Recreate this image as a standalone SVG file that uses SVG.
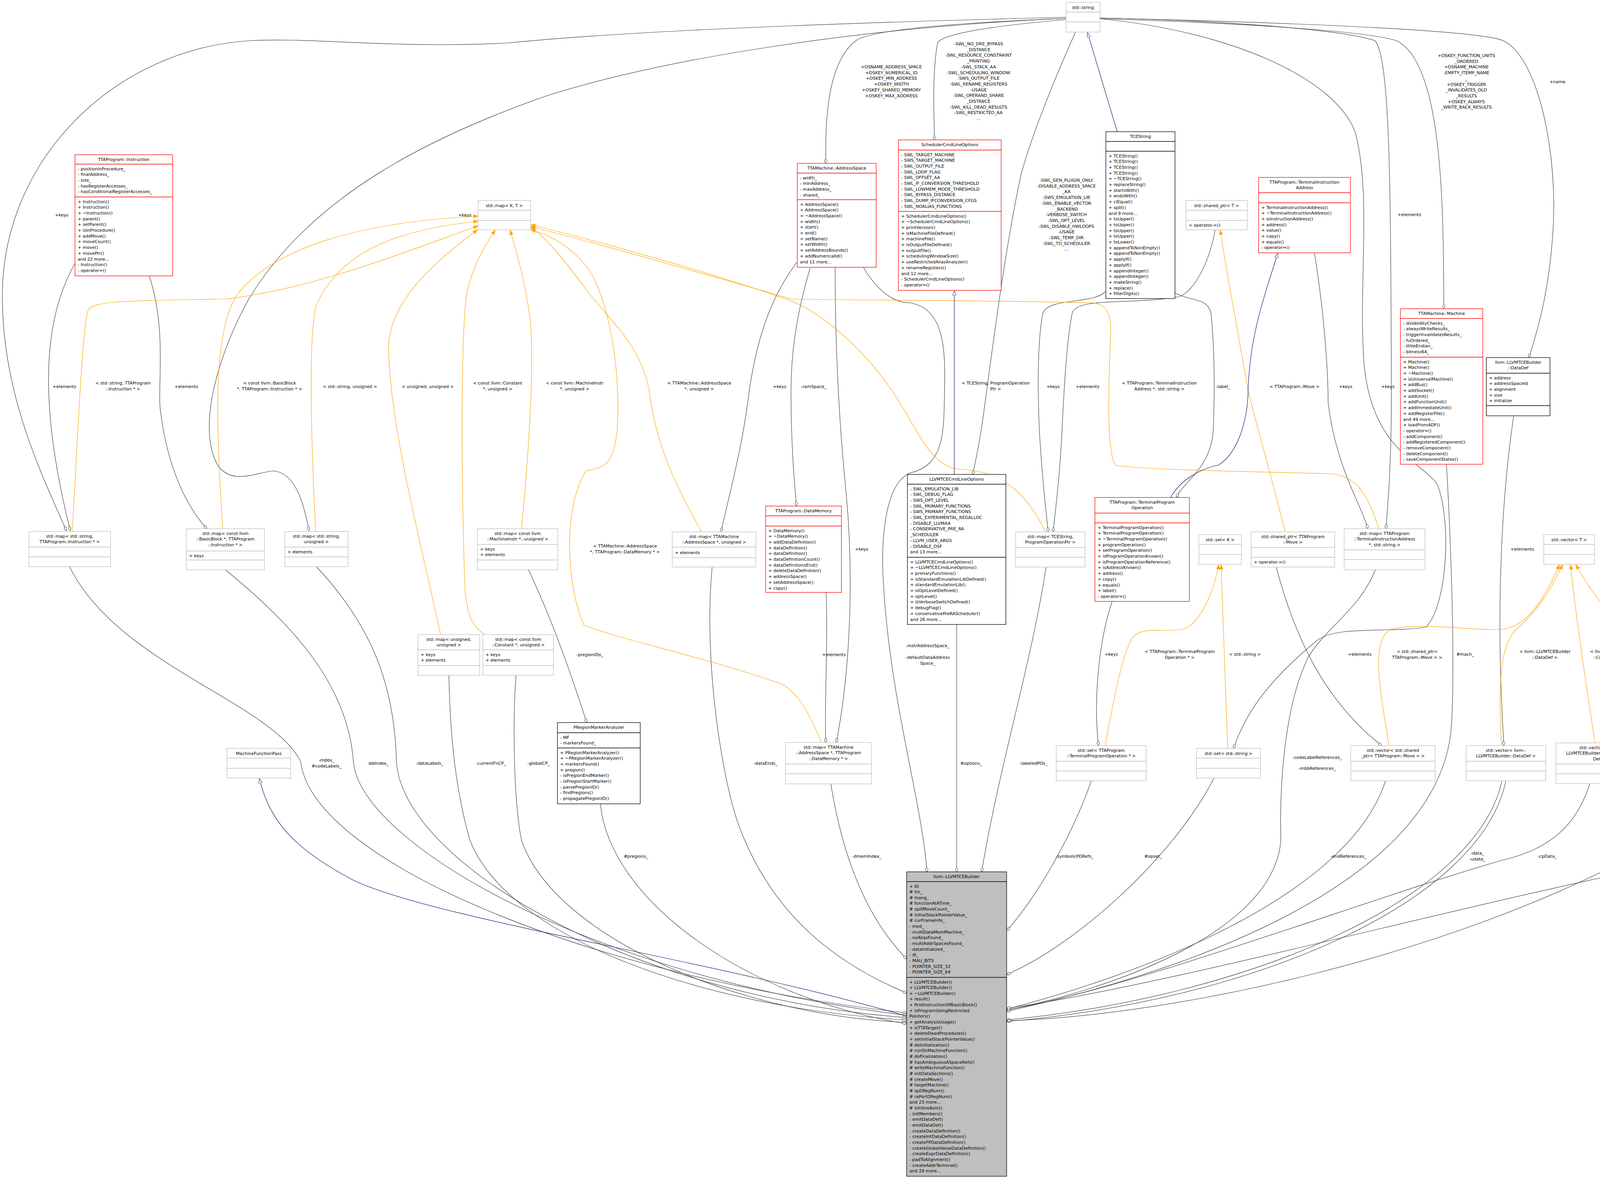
<svg xmlns="http://www.w3.org/2000/svg" width="4726" height="3017" viewBox="0 0 4726 3017">
<style>
text{font-family:"DejaVu Sans","Liberation Sans",sans-serif;font-size:11px;fill:#000}
.c{text-anchor:middle}
.g rect,.g path{fill:#fff;stroke:#bfbfbf;stroke-width:1.3}
.r rect,.r path{fill:#fff;stroke:#ff0000;stroke-width:1.3}
.k rect,.k path{fill:#fff;stroke:#000;stroke-width:1.3}
.m rect{fill:#bfbfbf;stroke:#000;stroke-width:1.3}
.m path{fill:none;stroke:#000;stroke-width:1.3}
#edges path{fill:none;stroke:#404040;stroke-width:1.2}
#edges path.o{stroke:orange}
#edges path.b{stroke:midnightblue}
</style>
<defs>
<marker id="d" markerWidth="15" markerHeight="9" refX="13" refY="4.5" orient="auto" markerUnits="userSpaceOnUse"><path d="M1,4.5 L7,1 L13,4.5 L7,8 Z" fill="#fff" stroke="#404040"/></marker>
<marker id="a" markerWidth="13" markerHeight="10" refX="12" refY="4.5" orient="auto" markerUnits="userSpaceOnUse"><path d="M0,0 L12,4.5 L0,9 Z" fill="orange" stroke="orange"/></marker>
<marker id="t" markerWidth="14" markerHeight="11" refX="12" refY="5" orient="auto" markerUnits="userSpaceOnUse"><path d="M0,0.5 L12,5 L0,9.5 Z" fill="#fff" stroke="midnightblue"/></marker>
</defs>
<rect width="4726" height="3017" fill="#fff"/>

<g id="edges">
<path marker-end="url(#d)" d="M2729,44 C2100,60 1600,80 1300,110 C1000,125 800,95 640,104 C300,125 10,400 6,750 C4,1000 100,1200 170,1358"/>
<path marker-end="url(#d)" d="M2729,47 C2200,70 1700,150 1400,245 C1100,350 800,500 640,760 C560,900 500,1100 560,1195 C600,1240 650,1210 700,1205 C760,1210 780,1300 791,1358"/>
<path marker-end="url(#d)" d="M192,674 C120,800 90,1000 180,1358"/>
<path marker-end="url(#d)" d="M382,706 C430,850 400,1000 412,1060 C430,1200 480,1300 530,1353"/>
<path marker-end="url(#d)" d="M2729,47 C2400,60 2220,80 2190,105 C2120,160 2112,300 2114,418"/>
<path marker-end="url(#d)" d="M2729,50 C2500,70 2410,90 2400,110 C2385,200 2392,300 2392,358"/>
<path marker-end="url(#d)" d="M2753,83 C2700,200 2640,350 2614,446 C2570,650 2540,900 2515,1080 C2505,1150 2495,1190 2490,1214"/>
<path marker-end="url(#d)" d="M2816,48 C3200,60 3500,80 3575,104 C3690,160 3696,500 3696,790"/>
<path marker-end="url(#d)" d="M2816,46 C3400,60 3800,80 3850,105 C3940,150 3990,400 3975,600 C3965,750 3935,850 3914,915"/>
<path marker-end="url(#d)" d="M2816,46 C3200,55 3450,80 3520,104 C3560,150 3560,500 3562,1000 C3562,1200 3552,1300 3548,1353"/>
<path marker-end="url(#d)" d="M2816,48 C3150,80 3420,200 3470,340 C3510,500 3480,700 3490,900 C3500,1150 3640,1180 3680,1240 C3720,1350 3700,1560 3650,1605 C3550,1620 3420,1600 3370,1640 C3250,1740 3190,1820 3158,1915"/>
<path marker-end="url(#d)" d="M3365,647 C3390,800 3400,950 3400,1030 C3420,1200 3490,1300 3501,1353"/>
<path marker-end="url(#d)" d="M2831,745 C2800,780 2690,760 2670,800 C2650,900 2660,1100 2664,1150 C2670,1250 2680,1320 2683,1361"/>
<path marker-end="url(#d)" d="M3111,588 C3090,700 3040,760 3012,760 C2900,780 2760,760 2745,800 C2725,900 2720,1100 2716,1150 C2710,1250 2700,1320 2696,1361"/>
<path marker-end="url(#d)" d="M3008,749 C3040,770 3090,760 3100,800 C3110,900 3110,1000 3106,1100 C3100,1200 3030,1230 3012,1273"/>
<path marker-end="url(#d)" d="M2041,670 C1980,750 1940,850 1918,1000 C1900,1150 1870,1250 1846,1361"/>
<path marker-end="url(#d)" d="M2138,684 C2138,900 2150,1100 2165,1250 C2185,1450 2180,1700 2141,1900"/>
<path marker-end="url(#d)" d="M2074,686 C2040,800 2025,900 2025,1000 C2025,1150 2035,1250 2039,1295"/>
<path marker-end="url(#d)" d="M2210,684 C2250,750 2290,775 2330,775 C2420,790 2420,900 2418,1000 C2416,1100 2420,1190 2330,1210 C2260,1240 2255,1400 2262,1500 C2280,1800 2360,2050 2373,2231"/>
<path marker-end="url(#d)" d="M2449,1598 L2449,2231"/>
<path marker-end="url(#d)" d="M2678,1451 C2640,1700 2560,1950 2513,2231"/>
<path marker-end="url(#d)" d="M2115,1516 C2120,1650 2110,1800 2114,1900"/>
<path marker-end="url(#d)" d="M1353,1458 C1420,1600 1470,1750 1502,1849"/>
<path marker-end="url(#d)" d="M3267,1451 C3320,1650 3400,1800 3537,1908"/>
<path marker-end="url(#d)" d="M2847,1539 C2810,1650 2800,1800 2812,1908"/>
<path marker-end="url(#d)" d="M3875,1064 C3840,1300 3830,1600 3850,1908"/>
<path marker-end="url(#d)" d="M4245,1473 C4245,1700 4200,1800 4135,1901"/>
<path marker-end="url(#d)" d="M4545,1444 C4550,1600 4500,1700 4378,1916"/>
<path marker-end="url(#d)" d="M178,1450 C300,1700 700,1800 770,1950 C800,2200 1500,2500 2321,2592"/>
<path marker-end="url(#d)" d="M577,1458 C750,1600 890,1750 905,1950 C920,2150 1500,2500 2321,2598"/>
<path marker-end="url(#d)" d="M810,1450 C950,1600 1010,1750 1015,1950 C1030,2200 1600,2550 2321,2604"/>
<path marker-end="url(#d)" d="M1149,1728 C1152,1850 1160,2000 1203,2150 C1300,2400 1800,2580 2321,2610"/>
<path marker-end="url(#d)" d="M1321,1728 C1312,1850 1315,2050 1335,2150 C1420,2400 1900,2600 2321,2616"/>
<path marker-end="url(#d)" d="M1537,2057 C1560,2300 1900,2550 2321,2620"/>
<path marker-end="url(#d)" d="M1823,1451 C1800,1700 1850,2000 1892,2114 C1980,2350 2150,2470 2321,2541"/>
<path marker-end="url(#d)" d="M2127,2006 C2150,2150 2200,2330 2321,2454"/>
<path marker-end="url(#d)" d="M2794,1998 C2740,2150 2650,2300 2577,2382"/>
<path marker-end="url(#d)" d="M3108,1991 C3000,2200 2750,2420 2577,2494"/>
<path marker-end="url(#d)" d="M3547,1998 C3450,2300 2900,2500 2577,2582"/>
<path marker-end="url(#d)" d="M3521,1458 C3480,1560 3400,1600 3350,1680 C3290,1800 3275,2000 3279,2150 C3260,2400 2800,2540 2577,2585"/>
<path marker-end="url(#d)" d="M3703,1188 C3715,1400 3725,1700 3716,1850 C3700,2200 3200,2450 2577,2588"/>
<path marker-end="url(#d)" d="M3845,1998 C3780,2300 3200,2550 2577,2610"/>
<path marker-end="url(#d)" d="M3855,1998 C3790,2310 3210,2560 2577,2614"/>
<path marker-end="url(#d)" d="M4070,2005 C4040,2100 3980,2170 3850,2200 C3500,2300 2900,2530 2577,2584"/>
<path marker-end="url(#d)" d="M4333,1991 C4290,2100 4250,2150 4200,2180 C3700,2450 3000,2600 2577,2612"/>
<path marker-end="url(#d)" d="M4500,2140 C4470,2180 4420,2200 4300,2205 C3800,2300 3000,2520 2577,2580"/>
<path class="o" marker-end="url(#a)" d="M185,1360 C200,1100 210,850 225,795 C240,770 300,770 580,765 C800,740 1050,640 1224,578"/>
<path class="o" marker-end="url(#a)" d="M570,1353 C555,1100 540,850 610,750 C700,640 900,570 1224,553"/>
<path class="o" marker-end="url(#a)" d="M808,1360 C795,1100 790,850 810,780 C870,650 1000,590 1224,566"/>
<path class="o" marker-end="url(#a)" d="M1128,1624 C1080,1400 1000,1100 995,900 C990,780 1100,680 1222,588"/>
<path class="o" marker-end="url(#a)" d="M1240,1624 C1210,1600 1195,1580 1190,1500 C1180,1200 1180,850 1195,750 C1210,680 1240,630 1268,589"/>
<path class="o" marker-end="url(#a)" d="M1335,1353 C1355,1150 1370,900 1355,800 C1340,700 1320,640 1306,589"/>
<path class="o" marker-end="url(#a)" d="M1796,1361 C1740,1260 1680,1150 1662,1000 C1640,880 1560,820 1500,740 C1440,660 1400,610 1359,582"/>
<path class="o" marker-end="url(#a)" d="M2103,1900 C2070,1820 2040,1770 2000,1750 C1800,1680 1600,1640 1495,1600 C1450,1500 1440,1300 1500,1205 C1540,1195 1570,1200 1580,1100 C1590,950 1560,760 1500,680 C1450,620 1400,600 1359,588"/>
<path class="o" marker-end="url(#a)" d="M2677,1361 C2620,1250 2560,1205 2450,1200 C2380,1190 2350,1100 2284,1000 C2200,880 2100,800 2025,770 C1800,690 1500,610 1359,575"/>
<path class="o" marker-end="url(#a)" d="M3530,1353 C3500,1260 3470,1215 3400,1212 C3100,1205 2900,1200 2855,1190 C2830,1150 2840,950 2843,850 C2845,800 2830,780 2800,775 C2500,768 2100,768 2025,765 C1800,700 1500,615 1359,580"/>
<path class="o" marker-end="url(#a)" d="M2829,1908 C2850,1800 2870,1680 2900,1630 C2930,1600 2980,1620 3030,1610 C3080,1590 3110,1500 3120,1445"/>
<path class="o" marker-end="url(#a)" d="M3143,1915 L3126,1445"/>
<path class="o" marker-end="url(#a)" d="M3290,1361 C3250,1200 3220,1100 3195,1000 C3170,850 3140,700 3124,589"/>
<path class="o" marker-end="url(#a)" d="M3556,1908 C3530,1750 3510,1640 3560,1610 C3650,1590 3800,1620 3860,1608 C3920,1590 3960,1520 3992,1445"/>
<path class="o" marker-end="url(#a)" d="M3844,1908 C3835,1750 3840,1650 3882,1610 C3940,1560 3975,1500 4000,1445"/>
<path class="o" marker-end="url(#a)" d="M4083,1901 C4060,1750 4030,1550 4021,1445"/>
<path class="o" marker-end="url(#a)" d="M4351,1916 C4345,1750 4340,1650 4300,1605 C4250,1590 4200,1620 4140,1585 C4090,1540 4060,1490 4034,1445"/>
<path class="b" marker-end="url(#t)" d="M2860,337 L2784,83"/>
<path class="b" marker-end="url(#t)" d="M2443,1214 L2443,744"/>
<path class="b" marker-end="url(#t)" d="M2997,1273 C3020,1230 3070,1200 3120,1190 C3180,1150 3195,1050 3195,1000 C3200,850 3240,750 3271,648"/>
<path class="b" marker-end="url(#t)" d="M2321,2600 C1800,2450 1100,2350 900,2250 C750,2170 690,2100 664,1992"/>

<text class="c" x="158" y="554">+keys</text>
<text class="c" x="1190" y="554">+keys</text>
<text class="c" x="165" y="993">+elements</text>
<text class="c" x="315" y="984">&lt; std::string, TTAProgram<tspan x="315" dy="14.7">::Instruction * &gt;</tspan></text>
<text class="c" x="477" y="993">+elements</text>
<text class="c" x="690" y="984">&lt; const llvm::BasicBlock<tspan x="690" dy="14.7">*, TTAProgram::Instruction * &gt;</tspan></text>
<text class="c" x="896" y="993">&lt; std::string, unsigned &gt;</text>
<text class="c" x="1095" y="993">&lt; unsigned, unsigned &gt;</text>
<text class="c" x="1274" y="984">&lt; const llvm::Constant<tspan x="1274" dy="14.7">*, unsigned &gt;</tspan></text>
<text class="c" x="1471" y="984">&lt; const llvm::MachineInstr<tspan x="1471" dy="14.7">*, unsigned &gt;</tspan></text>
<text class="c" x="1790" y="984">&lt; TTAMachine::AddressSpace<tspan x="1790" dy="14.7">*, unsigned &gt;</tspan></text>
<text class="c" x="1996" y="993">+keys</text>
<text class="c" x="2083" y="993">-ramSpace_</text>
<text class="c" x="2549" y="984">&lt; TCEString, ProgramOperation<tspan x="2549" dy="14.7">Ptr &gt;</tspan></text>
<text class="c" x="2696" y="993">+keys</text>
<text class="c" x="2784" y="993">+elements</text>
<text class="c" x="2968" y="984">&lt; TTAProgram::TerminalInstruction<tspan x="2968" dy="14.7">Address *, std::string &gt;</tspan></text>
<text class="c" x="3131" y="993">-label_</text>
<text class="c" x="3314" y="993">&lt; TTAProgram::Move &gt;</text>
<text class="c" x="3445" y="993">+keys</text>
<text class="c" x="3553" y="993">+keys</text>
<text class="c" x="2282" y="175">+OSNAME_ADDRESS_SPACE<tspan x="2282" dy="14.7">+OSKEY_NUMERICAL_ID</tspan><tspan x="2282" dy="14.7">+OSKEY_MIN_ADDRESS</tspan><tspan x="2282" dy="14.7">+OSKEY_WIDTH</tspan><tspan x="2282" dy="14.7">+OSKEY_SHARED_MEMORY</tspan><tspan x="2282" dy="14.7">+OSKEY_MAX_ADDRESS</tspan></text>
<text class="c" x="2505" y="116">-SWL_NO_DRE_BYPASS<tspan x="2505" dy="14.7">_DISTANCE</tspan><tspan x="2505" dy="14.7">-SWL_RESOURCE_CONSTRAINT</tspan><tspan x="2505" dy="14.7">_PRINTING</tspan><tspan x="2505" dy="14.7">-SWL_STACK_AA</tspan><tspan x="2505" dy="14.7">-SWL_SCHEDULING_WINDOW</tspan><tspan x="2505" dy="14.7">-SWS_OUTPUT_FILE</tspan><tspan x="2505" dy="14.7">-SWL_RENAME_REGISTERS</tspan><tspan x="2505" dy="14.7">-USAGE</tspan><tspan x="2505" dy="14.7">-SWL_OPERAND_SHARE</tspan><tspan x="2505" dy="14.7">_DISTANCE</tspan><tspan x="2505" dy="14.7">-SWL_KILL_DEAD_RESULTS</tspan><tspan x="2505" dy="14.7">-SWL_RESTRICTED_AA</tspan><tspan x="2505" dy="14.7">...</tspan></text>
<text class="c" x="2730" y="465">-SWL_GEN_PLUGIN_ONLY<tspan x="2730" dy="14.7">-DISABLE_ADDRESS_SPACE</tspan><tspan x="2730" dy="14.7">_AA</tspan><tspan x="2730" dy="14.7">-SWS_EMULATION_LIB</tspan><tspan x="2730" dy="14.7">-SWL_ENABLE_VECTOR</tspan><tspan x="2730" dy="14.7">_BACKEND</tspan><tspan x="2730" dy="14.7">-VERBOSE_SWITCH</tspan><tspan x="2730" dy="14.7">-SWL_OPT_LEVEL</tspan><tspan x="2730" dy="14.7">-SWL_DISABLE_HWLOOPS</tspan><tspan x="2730" dy="14.7">-USAGE</tspan><tspan x="2730" dy="14.7">-SWL_TEMP_DIR</tspan><tspan x="2730" dy="14.7">-SWL_TD_SCHEDULER</tspan><tspan x="2730" dy="14.7">...</tspan></text>
<text class="c" x="3754" y="146">+OSKEY_FUNCTION_UNITS<tspan x="3754" dy="14.7">_ORDERED</tspan><tspan x="3754" dy="14.7">+OSNAME_MACHINE</tspan><tspan x="3754" dy="14.7">-EMPTY_ITEMP_NAME</tspan><tspan x="3754" dy="14.7">_</tspan><tspan x="3754" dy="14.7">+OSKEY_TRIGGER</tspan><tspan x="3754" dy="14.7">_INVALIDATES_OLD</tspan><tspan x="3754" dy="14.7">_RESULTS</tspan><tspan x="3754" dy="14.7">+OSKEY_ALWAYS</tspan><tspan x="3754" dy="14.7">_WRITE_BACK_RESULTS</tspan></text>
<text class="c" x="3987" y="213">+name</text>
<text class="c" x="3608" y="553">+elements</text>
<text class="c" x="3897" y="1409">+elements</text>
<text class="c" x="1600" y="1401">&lt; TTAMachine::AddressSpace<tspan x="1600" dy="14.7">*, TTAProgram::DataMemory * &gt;</tspan></text>
<text class="c" x="2206" y="1409">+keys</text>
<text class="c" x="1510" y="1679">-pregionIDs_</text>
<text class="c" x="2135" y="1679">+elements</text>
<text class="c" x="2375" y="1656">-instrAddressSpace_<tspan x="2375" dy="30">-defaultDataAddress</tspan><tspan x="2375" dy="14.7">Space_</tspan></text>
<text class="c" x="2845" y="1678">+keys</text>
<text class="c" x="3020" y="1671">&lt; TTAProgram::TerminalProgram<tspan x="3020" dy="14.7">Operation * &gt;</tspan></text>
<text class="c" x="3187" y="1678">&lt; std::string &gt;</text>
<text class="c" x="3481" y="1678">+elements</text>
<text class="c" x="3628" y="1671">&lt; std::shared_ptr&lt;<tspan x="3628" dy="14.7">TTAProgram::Move &gt; &gt;</tspan></text>
<text class="c" x="3751" y="1678">#mach_</text>
<text class="c" x="3955" y="1671">&lt; llvm::LLVMTCEBuilder<tspan x="3955" dy="14.7">::DataDef &gt;</tspan></text>
<text class="c" x="4136" y="1671">&lt; llvm::LLVMTCEBuilder<tspan x="4136" dy="14.7">::ConstantDataDef &gt;</tspan></text>
<text class="c" x="4275" y="1678">+elements</text>
<text class="c" x="4417" y="1678">&lt; MachineFunction * &gt;</text>
<text class="c" x="4577" y="1678">+elements</text>
<text class="c" x="836" y="1949">-mbbs_<tspan x="836" dy="14.7">#codeLabels_</tspan></text>
<text class="c" x="968" y="1957">-bbIndex_</text>
<text class="c" x="1100" y="1957">-dataLabels_</text>
<text class="c" x="1257" y="1957">-currentFnCP_</text>
<text class="c" x="1379" y="1957">-globalCP_</text>
<text class="c" x="1960" y="1957">-dataEnds_</text>
<text class="c" x="2486" y="1957">#options_</text>
<text class="c" x="2646" y="1957">-labeledPOs_</text>
<text class="c" x="3372" y="1942">-codeLabelReferences_</text>
<text class="c" x="3372" y="1970">-mbbReferences_</text>
<text class="c" x="1628" y="2195">#pregions_</text>
<text class="c" x="2219" y="2195">-dmemIndex_</text>
<text class="c" x="2751" y="2195">-symbolicPORefs_</text>
<text class="c" x="2952" y="2195">#opset_</text>
<text class="c" x="3452" y="2195">-endReferences_</text>
<text class="c" x="3782" y="2187">-data_<tspan x="3782" dy="14.7">-udata_</tspan></text>
<text class="c" x="3961" y="2195">-cpData_</text>
<text class="c" x="4215" y="2195">-functions_</text>
<text class="c" x="4469" y="2195">#prog_</text>
</g>

<g id="MachineFunctionPass" class="g"><rect x="581" y="1915" width="163" height="76"/><path d="M581,1940H744M581,1966H744"/><text class="c" x="662.5" y="1931.5">MachineFunctionPass</text></g>

<g id="map_string_instr" class="g"><rect x="74" y="1360" width="209" height="90"/><path d="M74,1400H283M74,1425H283"/><text class="c" x="178.5" y="1375.5">std::map&lt; std::string,<tspan x="178.5" dy="14.7">TTAProgram::Instruction * &gt;</tspan></text></g>

<g id="map_bb_instr" class="g"><rect x="477" y="1353" width="200" height="105"/><path d="M477,1410H677M477,1433H677"/><text class="c" x="577" y="1368.5">std::map&lt; const llvm<tspan x="577" dy="14.7">::BasicBlock *, TTAProgram</tspan><tspan x="577" dy="14.7">::Instruction * &gt;</tspan></text><text x="484" y="1425.5">+ keys</text></g>

<g id="map_string_unsigned" class="g"><rect x="729" y="1360" width="162" height="90"/><path d="M729,1400H891M729,1425H891"/><text class="c" x="810" y="1375.5">std::map&lt; std::string,<tspan x="810" dy="14.7">unsigned &gt;</tspan></text><text x="736" y="1415.5">+ elements</text></g>

<g id="map_mi_unsigned" class="g"><rect x="1222" y="1353" width="206" height="105"/><path d="M1222,1393H1428M1222,1433H1428"/><text class="c" x="1325" y="1368.5">std::map&lt; const llvm<tspan x="1325" dy="14.7">::MachineInstr *, unsigned &gt;</tspan></text><text x="1229" y="1408.5">+ keys<tspan x="1229" dy="14.7">+ elements</tspan></text></g>

<g id="map_unsigned_unsigned" class="g"><rect x="1070" y="1624" width="158" height="104"/><path d="M1070,1663H1228M1070,1703H1228"/><text class="c" x="1149" y="1639.5">std::map&lt; unsigned,<tspan x="1149" dy="14.7">unsigned &gt;</tspan></text><text x="1077" y="1678.5">+ keys<tspan x="1077" dy="14.7">+ elements</tspan></text></g>

<g id="map_constant_unsigned" class="g"><rect x="1236" y="1624" width="181" height="104"/><path d="M1236,1663H1417M1236,1703H1417"/><text class="c" x="1326.5" y="1639.5">std::map&lt; const llvm<tspan x="1326.5" dy="14.7">::Constant *, unsigned &gt;</tspan></text><text x="1243" y="1678.5">+ keys<tspan x="1243" dy="14.7">+ elements</tspan></text></g>

<g id="map_as_unsigned" class="g"><rect x="1721" y="1361" width="214" height="90"/><path d="M1721,1400H1935M1721,1427H1935"/><text class="c" x="1828" y="1376.5">std::map&lt; TTAMachine<tspan x="1828" dy="14.7">::AddressSpace *, unsigned &gt;</tspan></text><text x="1728" y="1417.5">+ elements</text></g>

<g id="DataMemory" class="r"><rect x="1960" y="1295" width="194" height="221"/><path d="M1960,1320H2154M1960,1346H2154"/><text class="c" x="2057" y="1311">TTAProgram::DataMemory</text><text x="1967" y="1361.5">+ DataMemory()<tspan x="1967" dy="14.7">+ ~DataMemory()</tspan><tspan x="1967" dy="14.7">+ addDataDefinition()</tspan><tspan x="1967" dy="14.7">+ dataDefinition()</tspan><tspan x="1967" dy="14.7">+ dataDefinition()</tspan><tspan x="1967" dy="14.7">+ dataDefinitionCount()</tspan><tspan x="1967" dy="14.7">+ dataDefinitionsEnd()</tspan><tspan x="1967" dy="14.7">+ deleteDataDefinition()</tspan><tspan x="1967" dy="14.7">+ addressSpace()</tspan><tspan x="1967" dy="14.7">+ setAddressSpace()</tspan><tspan x="1967" dy="14.7">+ copy()</tspan></text></g>

<g id="PRegionMarkerAnalyzer" class="k"><rect x="1427" y="1849" width="212" height="208"/><path d="M1427,1875H1639M1427,1914H1639"/><text class="c" x="1533" y="1865">PRegionMarkerAnalyzer</text><text x="1434" y="1890.5">- MF<tspan x="1434" dy="14.7">- markersFound_</tspan></text><text x="1434" y="1929.5">+ PRegionMarkerAnalyzer()<tspan x="1434" dy="14.7">+ ~PRegionMarkerAnalyzer()</tspan><tspan x="1434" dy="14.7">+ markersFound()</tspan><tspan x="1434" dy="14.7">+ pregion()</tspan><tspan x="1434" dy="14.7">- isPregionEndMarker()</tspan><tspan x="1434" dy="14.7">- isPregionStartMarker()</tspan><tspan x="1434" dy="14.7">- parsePregionID()</tspan><tspan x="1434" dy="14.7">- findPregions()</tspan><tspan x="1434" dy="14.7">- propagatePregionID()</tspan></text></g>

<g id="map_as_dm" class="g"><rect x="2011" y="1900" width="220" height="106"/><path d="M2011,1955H2231M2011,1980H2231"/><text class="c" x="2121" y="1915.5">std::map&lt; TTAMachine<tspan x="2121" dy="14.7">::AddressSpace *, TTAProgram</tspan><tspan x="2121" dy="14.7">::DataMemory * &gt;</tspan></text></g>

<g id="Instruction" class="r"><rect x="192" y="396" width="250" height="310"/><path d="M192,420H442M192,504H442"/><text class="c" x="317" y="412">TTAProgram::Instruction</text><text x="199" y="435.5">- positionInProcedure_<tspan x="199" dy="14.7">- finalAddress_</tspan><tspan x="199" dy="14.7">- size_</tspan><tspan x="199" dy="14.7">- hasRegisterAccesses_</tspan><tspan x="199" dy="14.7">- hasConditionalRegisterAccesses_</tspan></text><text x="199" y="519.5">+ Instruction()<tspan x="199" dy="14.7">+ Instruction()</tspan><tspan x="199" dy="14.7">+ ~Instruction()</tspan><tspan x="199" dy="14.7">+ parent()</tspan><tspan x="199" dy="14.7">+ setParent()</tspan><tspan x="199" dy="14.7">+ isInProcedure()</tspan><tspan x="199" dy="14.7">+ addMove()</tspan><tspan x="199" dy="14.7">+ moveCount()</tspan><tspan x="199" dy="14.7">+ move()</tspan><tspan x="199" dy="14.7">+ movePtr()</tspan><tspan x="199" dy="14.7">and 22 more...</tspan><tspan x="199" dy="14.7">- Instruction()</tspan><tspan x="199" dy="14.7">- operator=()</tspan></text></g>

<g id="map_K_T" class="g"><rect x="1224" y="513" width="134" height="75"/><path d="M1224,538H1358M1224,564H1358"/><text class="c" x="1291" y="530">std::map&lt; K, T &gt;</text></g>

<g id="string" class="g"><rect x="2729" y="6" width="87" height="76"/><path d="M2729,31H2816M2729,56H2816"/><text class="c" x="2772.5" y="23">std::string</text></g>

<g id="AddressSpace" class="r"><rect x="2041" y="418" width="202" height="266"/><path d="M2041,443H2243M2041,511H2243"/><text class="c" x="2142" y="434">TTAMachine::AddressSpace</text><text x="2048" y="458.5">- width_<tspan x="2048" dy="14.7">- minAddress_</tspan><tspan x="2048" dy="14.7">- maxAddress_</tspan><tspan x="2048" dy="14.7">- shared_</tspan></text><text x="2048" y="526.5">+ AddressSpace()<tspan x="2048" dy="14.7">+ AddressSpace()</tspan><tspan x="2048" dy="14.7">+ ~AddressSpace()</tspan><tspan x="2048" dy="14.7">+ width()</tspan><tspan x="2048" dy="14.7">+ start()</tspan><tspan x="2048" dy="14.7">+ end()</tspan><tspan x="2048" dy="14.7">+ setName()</tspan><tspan x="2048" dy="14.7">+ setWidth()</tspan><tspan x="2048" dy="14.7">+ setAddressBounds()</tspan><tspan x="2048" dy="14.7">+ addNumericalId()</tspan><tspan x="2048" dy="14.7">and 11 more...</tspan></text></g>

<g id="SchedulerCmdLineOptions" class="r"><rect x="2300" y="358" width="263" height="385"/><path d="M2300,384H2563M2300,541H2563"/><text class="c" x="2431.5" y="374">SchedulerCmdLineOptions</text><text x="2307" y="399.5">- SWL_TARGET_MACHINE<tspan x="2307" dy="14.7">- SWS_TARGET_MACHINE</tspan><tspan x="2307" dy="14.7">- SWL_OUTPUT_FILE</tspan><tspan x="2307" dy="14.7">- SWL_LOOP_FLAG</tspan><tspan x="2307" dy="14.7">- SWL_OFFSET_AA</tspan><tspan x="2307" dy="14.7">- SWL_IF_CONVERSION_THRESHOLD</tspan><tspan x="2307" dy="14.7">- SWL_LOWMEM_MODE_THRESHOLD</tspan><tspan x="2307" dy="14.7">- SWL_BYPASS_DISTANCE</tspan><tspan x="2307" dy="14.7">- SWL_DUMP_IFCONVERSION_CFGS</tspan><tspan x="2307" dy="14.7">- SWL_NOALIAS_FUNCTIONS</tspan></text><text x="2307" y="556.5">+ SchedulerCmdLineOptions()<tspan x="2307" dy="14.7">+ ~SchedulerCmdLineOptions()</tspan><tspan x="2307" dy="14.7">+ printVersion()</tspan><tspan x="2307" dy="14.7">+ isMachineFileDefined()</tspan><tspan x="2307" dy="14.7">+ machineFile()</tspan><tspan x="2307" dy="14.7">+ isOutputFileDefined()</tspan><tspan x="2307" dy="14.7">+ outputFile()</tspan><tspan x="2307" dy="14.7">+ schedulingWindowSize()</tspan><tspan x="2307" dy="14.7">+ useRestrictedAliasAnalyzer()</tspan><tspan x="2307" dy="14.7">+ renameRegisters()</tspan><tspan x="2307" dy="14.7">and 12 more...</tspan><tspan x="2307" dy="14.7">- SchedulerCmdLineOptions()</tspan><tspan x="2307" dy="14.7">- operator=()</tspan></text></g>

<g id="TCEString" class="k"><rect x="2831" y="337" width="177" height="427"/><path d="M2831,362H3008M2831,387H3008"/><text class="c" x="2919.5" y="353">TCEString</text><text x="2838" y="402.5">+ TCEString()<tspan x="2838" dy="14.7">+ TCEString()</tspan><tspan x="2838" dy="14.7">+ TCEString()</tspan><tspan x="2838" dy="14.7">+ TCEString()</tspan><tspan x="2838" dy="14.7">+ ~TCEString()</tspan><tspan x="2838" dy="14.7">+ replaceString()</tspan><tspan x="2838" dy="14.7">+ startsWith()</tspan><tspan x="2838" dy="14.7">+ endsWith()</tspan><tspan x="2838" dy="14.7">+ ciEqual()</tspan><tspan x="2838" dy="14.7">+ split()</tspan><tspan x="2838" dy="14.7">and 9 more...</tspan><tspan x="2838" dy="14.7">+ toUpper()</tspan><tspan x="2838" dy="14.7">+ toUpper()</tspan><tspan x="2838" dy="14.7">+ toUpper()</tspan><tspan x="2838" dy="14.7">+ toUpper()</tspan><tspan x="2838" dy="14.7">+ toLower()</tspan><tspan x="2838" dy="14.7">+ appendToNonEmpty()</tspan><tspan x="2838" dy="14.7">+ appendToNonEmpty()</tspan><tspan x="2838" dy="14.7">+ applyIf()</tspan><tspan x="2838" dy="14.7">+ applyIf()</tspan><tspan x="2838" dy="14.7">+ appendInteger()</tspan><tspan x="2838" dy="14.7">+ appendInteger()</tspan><tspan x="2838" dy="14.7">+ makeString()</tspan><tspan x="2838" dy="14.7">+ replace()</tspan><tspan x="2838" dy="14.7">+ filterDigits()</tspan></text></g>

<g id="shared_ptr_T" class="g"><rect x="3036" y="513" width="157" height="75"/><path d="M3036,538H3193M3036,564H3193"/><text class="c" x="3114.5" y="530">std::shared_ptr&lt; T &gt;</text><text x="3043" y="580">+ operator-&gt;()</text></g>

<g id="TerminalInstructionAddress" class="r"><rect x="3222" y="454" width="235" height="193"/><path d="M3222,493H3457M3222,519H3457"/><text class="c" x="3339.5" y="469.5">TTAProgram::TerminalInstruction<tspan x="3339.5" dy="14.7">Address</tspan></text><text x="3229" y="534.5">+ TerminalInstructionAddress()<tspan x="3229" dy="14.7">+ ~TerminalInstructionAddress()</tspan><tspan x="3229" dy="14.7">+ isInstructionAddress()</tspan><tspan x="3229" dy="14.7">+ address()</tspan><tspan x="3229" dy="14.7">+ value()</tspan><tspan x="3229" dy="14.7">+ copy()</tspan><tspan x="3229" dy="14.7">+ equals()</tspan><tspan x="3229" dy="14.7">- operator=()</tspan></text></g>

<g id="Machine" class="r"><rect x="3585" y="790" width="211" height="398"/><path d="M3585,815H3796M3585,914H3796"/><text class="c" x="3690.5" y="806">TTAMachine::Machine</text><text x="3592" y="830.5">- doValidityChecks_<tspan x="3592" dy="14.7">- alwaysWriteResults_</tspan><tspan x="3592" dy="14.7">- triggerInvalidatesResults_</tspan><tspan x="3592" dy="14.7">- fuOrdered_</tspan><tspan x="3592" dy="14.7">- littleEndian_</tspan><tspan x="3592" dy="14.7">- bitness64_</tspan></text><text x="3592" y="929.5">+ Machine()<tspan x="3592" dy="14.7">+ Machine()</tspan><tspan x="3592" dy="14.7">+ ~Machine()</tspan><tspan x="3592" dy="14.7">+ isUniversalMachine()</tspan><tspan x="3592" dy="14.7">+ addBus()</tspan><tspan x="3592" dy="14.7">+ addSocket()</tspan><tspan x="3592" dy="14.7">+ addUnit()</tspan><tspan x="3592" dy="14.7">+ addFunctionUnit()</tspan><tspan x="3592" dy="14.7">+ addImmediateUnit()</tspan><tspan x="3592" dy="14.7">+ addRegisterFile()</tspan><tspan x="3592" dy="14.7">and 49 more...</tspan><tspan x="3592" dy="14.7">+ loadFromADF()</tspan><tspan x="3592" dy="14.7">- operator=()</tspan><tspan x="3592" dy="14.7">- addComponent()</tspan><tspan x="3592" dy="14.7">- addRegisteredComponent()</tspan><tspan x="3592" dy="14.7">- removeComponent()</tspan><tspan x="3592" dy="14.7">- deleteComponent()</tspan><tspan x="3592" dy="14.7">- saveComponentStates()</tspan></text></g>

<g id="DataDef" class="k"><rect x="3805" y="915" width="163" height="149"/><path d="M3805,955H3968M3805,1038H3968"/><text class="c" x="3886.5" y="930.5">llvm::LLVMTCEBuilder<tspan x="3886.5" dy="14.7">::DataDef</tspan></text><text x="3812" y="970.5">+ address<tspan x="3812" dy="14.7">+ addressSpaceId</tspan><tspan x="3812" dy="14.7">+ alignment</tspan><tspan x="3812" dy="14.7">+ size</tspan><tspan x="3812" dy="14.7">+ initialize</tspan></text></g>

<g id="LLVMTCECmdLineOptions" class="k"><rect x="2323" y="1214" width="252" height="384"/><path d="M2323,1239H2575M2323,1426H2575"/><text class="c" x="2449" y="1230">LLVMTCECmdLineOptions</text><text x="2330" y="1254.5">- SWL_EMULATION_LIB<tspan x="2330" dy="14.7">- SWL_DEBUG_FLAG</tspan><tspan x="2330" dy="14.7">- SWS_OPT_LEVEL</tspan><tspan x="2330" dy="14.7">- SWL_PRIMARY_FUNCTIONS</tspan><tspan x="2330" dy="14.7">- SWS_PRIMARY_FUNCTIONS</tspan><tspan x="2330" dy="14.7">- SWL_EXPERIMENTAL_REGALLOC</tspan><tspan x="2330" dy="14.7">- DISABLE_LLVMAA</tspan><tspan x="2330" dy="14.7">- CONSERVATIVE_PRE_RA</tspan><tspan x="2330" dy="14.7">_SCHEDULER</tspan><tspan x="2330" dy="14.7">- LLVM_USER_ARGS</tspan><tspan x="2330" dy="14.7">- DISABLE_DSF</tspan><tspan x="2330" dy="14.7">and 13 more...</tspan></text><text x="2330" y="1441.5">+ LLVMTCECmdLineOptions()<tspan x="2330" dy="14.7">+ ~LLVMTCECmdLineOptions()</tspan><tspan x="2330" dy="14.7">+ primaryFunctions()</tspan><tspan x="2330" dy="14.7">+ isStandardEmulationLibDefined()</tspan><tspan x="2330" dy="14.7">+ standardEmulationLib()</tspan><tspan x="2330" dy="14.7">+ isOptLevelDefined()</tspan><tspan x="2330" dy="14.7">+ optLevel()</tspan><tspan x="2330" dy="14.7">+ isVerboseSwitchDefined()</tspan><tspan x="2330" dy="14.7">+ debugFlag()</tspan><tspan x="2330" dy="14.7">+ conservativePreRAScheduler()</tspan><tspan x="2330" dy="14.7">and 26 more...</tspan></text></g>

<g id="map_tcestring_poptr" class="g"><rect x="2600" y="1361" width="178" height="90"/><path d="M2600,1401H2778M2600,1426H2778"/><text class="c" x="2689" y="1376.5">std::map&lt; TCEString,<tspan x="2689" dy="14.7">ProgramOperationPtr &gt;</tspan></text></g>

<g id="TerminalProgramOperation" class="r"><rect x="2803" y="1273" width="242" height="266"/><path d="M2803,1313H3045M2803,1338H3045"/><text class="c" x="2924" y="1288.5">TTAProgram::TerminalProgram<tspan x="2924" dy="14.7">Operation</tspan></text><text x="2810" y="1353.5">+ TerminalProgramOperation()<tspan x="2810" dy="14.7">+ TerminalProgramOperation()</tspan><tspan x="2810" dy="14.7">+ ~TerminalProgramOperation()</tspan><tspan x="2810" dy="14.7">+ programOperation()</tspan><tspan x="2810" dy="14.7">+ setProgramOperation()</tspan><tspan x="2810" dy="14.7">+ isProgramOperationKnown()</tspan><tspan x="2810" dy="14.7">+ isProgramOperationReference()</tspan><tspan x="2810" dy="14.7">+ isAddressKnown()</tspan><tspan x="2810" dy="14.7">+ address()</tspan><tspan x="2810" dy="14.7">+ copy()</tspan><tspan x="2810" dy="14.7">+ equals()</tspan><tspan x="2810" dy="14.7">+ label()</tspan><tspan x="2810" dy="14.7">- operator=()</tspan></text></g>

<g id="set_K" class="g"><rect x="3069" y="1368" width="109" height="76"/><path d="M3069,1393H3178M3069,1419H3178"/><text class="c" x="3123.5" y="1385">std::set&lt; K &gt;</text></g>

<g id="shared_ptr_move" class="g"><rect x="3203" y="1361" width="214" height="90"/><path d="M3203,1401H3417M3203,1426H3417"/><text class="c" x="3310" y="1376.5">std::shared_ptr&lt; TTAProgram<tspan x="3310" dy="14.7">::Move &gt;</tspan></text><text x="3210" y="1442">+ operator-&gt;()</text></g>

<g id="map_tia_string" class="g"><rect x="3441" y="1353" width="207" height="105"/><path d="M3441,1407H3648M3441,1432H3648"/><text class="c" x="3544.5" y="1368.5">std::map&lt; TTAProgram<tspan x="3544.5" dy="14.7">::TerminalInstructionAddress</tspan><tspan x="3544.5" dy="14.7">*, std::string &gt;</tspan></text></g>

<g id="vector_T" class="g"><rect x="3952" y="1368" width="130" height="76"/><path d="M3952,1393H4082M3952,1419H4082"/><text class="c" x="4017" y="1385">std::vector&lt; T &gt;</text></g>

<g id="ConstantDataDef" class="k"><rect x="4162" y="1339" width="163" height="134"/><path d="M4162,1380H4325M4162,1448H4325"/><text class="c" x="4243.5" y="1354.5">llvm::LLVMTCEBuilder<tspan x="4243.5" dy="14.7">::ConstantDataDef</tspan></text><text x="4169" y="1395.5">+ address<tspan x="4169" dy="14.7">+ alignment</tspan><tspan x="4169" dy="14.7">+ size</tspan><tspan x="4169" dy="14.7">+ value</tspan></text><text x="4169" y="1464">+ ConstantDataDef()</text></g>

<g id="MachineFunction" class="g"><rect x="4472" y="1368" width="131" height="76"/><path d="M4472,1393H4603M4472,1419H4603"/><text class="c" x="4537.5" y="1385">MachineFunction</text></g>

<g id="Program" class="r"><rect x="4497" y="1754" width="223" height="398"/><path d="M4497,1779H4720M4497,1819H4720"/><text class="c" x="4608.5" y="1770">TTAProgram::Program</text><text x="4504" y="1794.5">- finalized_<tspan x="4504" dy="14.7">- instructionPerAddress_</tspan></text><text x="4504" y="1834.5">+ Program()<tspan x="4504" dy="14.7">+ Program()</tspan><tspan x="4504" dy="14.7">+ Program()</tspan><tspan x="4504" dy="14.7">+ ~Program()</tspan><tspan x="4504" dy="14.7">+ globalScope()</tspan><tspan x="4504" dy="14.7">+ globalScopeConst()</tspan><tspan x="4504" dy="14.7">+ targetProcessor()</tspan><tspan x="4504" dy="14.7">+ universalMachine()</tspan><tspan x="4504" dy="14.7">+ setUniversalMachine()</tspan><tspan x="4504" dy="14.7">+ startAddress()</tspan><tspan x="4504" dy="14.7">and 39 more...</tspan><tspan x="4504" dy="14.7">+ loadFromUnscheduledTPEF()</tspan><tspan x="4504" dy="14.7">+ loadFromTPEF()</tspan><tspan x="4504" dy="14.7">+ loadFromUnscheduledTPEF()</tspan><tspan x="4504" dy="14.7">+ writeToTPEF()</tspan><tspan x="4504" dy="14.7">- Program()</tspan><tspan x="4504" dy="14.7">- copyDataMemoriesFrom()</tspan><tspan x="4504" dy="14.7">- copyCodeLabelsFrom()</tspan><tspan x="4504" dy="14.7">- copyDataLabelsFrom()</tspan><tspan x="4504" dy="14.7">- copyFrom()</tspan><tspan x="4504" dy="14.7">- cleanup()</tspan><tspan x="4504" dy="14.7">- convertSymbolRef()</tspan></text></g>

<g id="set_tpo" class="g"><rect x="2704" y="1908" width="230" height="90"/><path d="M2704,1948H2934M2704,1973H2934"/><text class="c" x="2819" y="1923.5">std::set&lt; TTAProgram<tspan x="2819" dy="14.7">::TerminalProgramOperation * &gt;</tspan></text></g>

<g id="set_string" class="g"><rect x="3063" y="1915" width="164" height="76"/><path d="M3063,1940H3227M3063,1966H3227"/><text class="c" x="3145" y="1932">std::set&lt; std::string &gt;</text></g>

<g id="vector_sp_move" class="g"><rect x="3458" y="1908" width="216" height="90"/><path d="M3458,1948H3674M3458,1973H3674"/><text class="c" x="3566" y="1923.5">std::vector&lt; std::shared<tspan x="3566" dy="14.7">_ptr&lt; TTAProgram::Move &gt; &gt;</tspan></text></g>

<g id="vector_datadef" class="g"><rect x="3753" y="1908" width="204" height="90"/><path d="M3753,1948H3957M3753,1973H3957"/><text class="c" x="3855" y="1923.5">std::vector&lt; llvm::<tspan x="3855" dy="14.7">LLVMTCEBuilder::DataDef &gt;</tspan></text></g>

<g id="vector_cdd" class="g"><rect x="3983" y="1901" width="223" height="104"/><path d="M3983,1955H4206M3983,1980H4206"/><text class="c" x="4094.5" y="1916.5">std::vector&lt; llvm::<tspan x="4094.5" dy="14.7">LLVMTCEBuilder::ConstantData</tspan><tspan x="4094.5" dy="14.7">Def &gt;</tspan></text></g>

<g id="vector_mf" class="g"><rect x="4230" y="1916" width="242" height="75"/><path d="M4230,1941H4472M4230,1966H4472"/><text class="c" x="4351" y="1933">std::vector&lt; MachineFunction * &gt;</text></g>

<g id="LLVMTCEBuilder" class="m"><rect x="2321" y="2231" width="256" height="779"/><path d="M2321,2256H2577M2321,2501H2577"/><text class="c" x="2449" y="2247">llvm::LLVMTCEBuilder</text><text x="2328" y="2271.5">+ ID<tspan x="2328" dy="14.66"># tm_</tspan><tspan x="2328" dy="14.66"># mang_</tspan><tspan x="2328" dy="14.66"># functionAtATime_</tspan><tspan x="2328" dy="14.66"># spillMoveCount_</tspan><tspan x="2328" dy="14.66"># initialStackPointerValue_</tspan><tspan x="2328" dy="14.66"># curFrameInfo_</tspan><tspan x="2328" dy="14.66">- mod_</tspan><tspan x="2328" dy="14.66">- multiDataMemMachine_</tspan><tspan x="2328" dy="14.66">- noAliasFound_</tspan><tspan x="2328" dy="14.66">- multiAddrSpacesFound_</tspan><tspan x="2328" dy="14.66">- dataInitialized_</tspan><tspan x="2328" dy="14.66">- dl_</tspan><tspan x="2328" dy="14.66">- MAU_BITS</tspan><tspan x="2328" dy="14.66">- POINTER_SIZE_32</tspan><tspan x="2328" dy="14.66">- POINTER_SIZE_64</tspan></text><text x="2328" y="2516.5">+ LLVMTCEBuilder()<tspan x="2328" dy="14.66">+ LLVMTCEBuilder()</tspan><tspan x="2328" dy="14.66">+ ~LLVMTCEBuilder()</tspan><tspan x="2328" dy="14.66">+ result()</tspan><tspan x="2328" dy="14.66">+ firstInstructionOfBasicBlock()</tspan><tspan x="2328" dy="14.66">+ isProgramUsingRestricted</tspan><tspan x="2328" dy="14.66">Pointers()</tspan><tspan x="2328" dy="14.66">+ getAnalysisUsage()</tspan><tspan x="2328" dy="14.66">+ isTTATarget()</tspan><tspan x="2328" dy="14.66">+ deleteDeadProcedures()</tspan><tspan x="2328" dy="14.66">+ setInitialStackPointerValue()</tspan><tspan x="2328" dy="14.66"># doInitialization()</tspan><tspan x="2328" dy="14.66"># runOnMachineFunction()</tspan><tspan x="2328" dy="14.66"># doFinalization()</tspan><tspan x="2328" dy="14.66"># hasAmbiguousASpaceRefs()</tspan><tspan x="2328" dy="14.66"># writeMachineFunction()</tspan><tspan x="2328" dy="14.66"># initDataSections()</tspan><tspan x="2328" dy="14.66"># createMove()</tspan><tspan x="2328" dy="14.66"># targetMachine()</tspan><tspan x="2328" dy="14.66"># spDRegNum()</tspan><tspan x="2328" dy="14.66"># raPortDRegNum()</tspan><tspan x="2328" dy="14.66">and 23 more...</tspan><tspan x="2328" dy="14.66"># isInlineAsm()</tspan><tspan x="2328" dy="14.66">- initMembers()</tspan><tspan x="2328" dy="14.66">- emitDataDef()</tspan><tspan x="2328" dy="14.66">- emitDataDef()</tspan><tspan x="2328" dy="14.66">- createDataDefinition()</tspan><tspan x="2328" dy="14.66">- createIntDataDefinition()</tspan><tspan x="2328" dy="14.66">- createFPDataDefinition()</tspan><tspan x="2328" dy="14.66">- createGlobalValueDataDefinition()</tspan><tspan x="2328" dy="14.66">- createExprDataDefinition()</tspan><tspan x="2328" dy="14.66">- padToAlignment()</tspan><tspan x="2328" dy="14.66">- createAddrTerminal()</tspan><tspan x="2328" dy="14.66">and 29 more...</tspan></text></g>
</svg>
